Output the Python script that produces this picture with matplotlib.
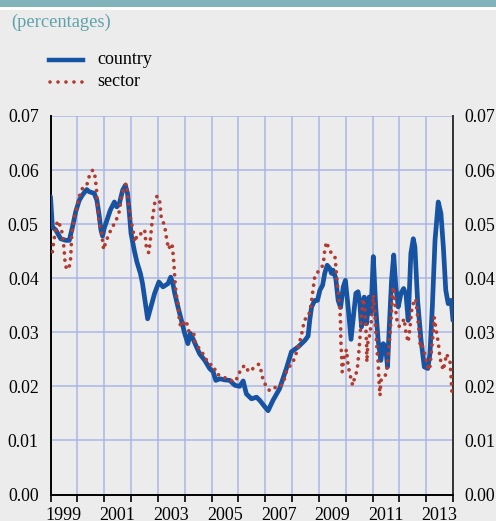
import matplotlib
matplotlib.use("Agg")
import matplotlib.pyplot as plt
from matplotlib.lines import Line2D
from matplotlib.patches import Rectangle
from matplotlib.ticker import FixedLocator, NullFormatter, FixedFormatter

plt.rcParams['font.family'] = ['Liberation Serif', 'DejaVu Serif']

# ---- data (decimal years, values) ----
country_t = [1999.00, 1999.07, 1999.20, 1999.38, 1999.57, 1999.70, 1999.82, 1999.94,
             2000.07, 2000.19, 2000.35, 2000.44, 2000.63, 2000.73, 2000.82, 2000.88, 2000.94,
             2001.00, 2001.10, 2001.23, 2001.38, 2001.47, 2001.56, 2001.69, 2001.79, 2001.87, 2001.94,
             2002.00, 2002.12, 2002.22, 2002.35, 2002.43, 2002.52, 2002.62, 2002.74, 2002.88,
             2003.04, 2003.19, 2003.38, 2003.48, 2003.56, 2003.63, 2003.75, 2003.88,
             2004.00, 2004.12, 2004.21, 2004.31, 2004.44, 2004.56, 2004.75, 2004.93,
             2005.06, 2005.16, 2005.31, 2005.49, 2005.68, 2005.87,
             2006.05, 2006.18, 2006.30, 2006.49, 2006.68, 2006.80, 2006.99,
             2007.11, 2007.29, 2007.54, 2007.79, 2007.98,
             2008.23, 2008.48, 2008.60, 2008.66, 2008.73, 2008.85, 2008.95,
             2009.04, 2009.14, 2009.22, 2009.31, 2009.41, 2009.47, 2009.53, 2009.63, 2009.72,
             2009.81, 2009.91, 2009.99, 2010.09, 2010.20, 2010.38, 2010.46, 2010.52, 2010.59,
             2010.69, 2010.78, 2010.87, 2010.94,
             2011.03, 2011.12, 2011.21, 2011.31, 2011.40, 2011.49, 2011.56, 2011.62, 2011.71,
             2011.79, 2011.87, 2011.96,
             2012.06, 2012.16, 2012.25, 2012.33, 2012.43, 2012.52, 2012.58, 2012.68, 2012.81, 2012.93,
             2013.06, 2013.14, 2013.23, 2013.33, 2013.45, 2013.55, 2013.64, 2013.73, 2013.82, 2013.93, 2014.00]
country_v = [0.0551, 0.0495, 0.0489, 0.0473, 0.0470, 0.0470, 0.0495, 0.0523,
             0.0544, 0.0554, 0.0564, 0.0560, 0.0557, 0.0544, 0.0514, 0.0489, 0.0478,
             0.0492, 0.0507, 0.0526, 0.0541, 0.0532, 0.0537, 0.0563, 0.0572, 0.0557, 0.0520,
             0.0483, 0.0452, 0.0430, 0.0409, 0.0390, 0.0359, 0.0325, 0.0347, 0.0372,
             0.0393, 0.0384, 0.0390, 0.0402, 0.0390, 0.0372, 0.0347, 0.0322,
             0.0298, 0.0279, 0.0298, 0.0288, 0.0273, 0.0260, 0.0248, 0.0233,
             0.0227, 0.0211, 0.0214, 0.0212, 0.0211, 0.0202,
             0.0200, 0.0210, 0.0186, 0.0177, 0.0180, 0.0174, 0.0162,
             0.0155, 0.0174, 0.0196, 0.0233, 0.0264,
             0.0273, 0.0285, 0.0293, 0.0322, 0.0347, 0.0359, 0.0359,
             0.0378, 0.0387, 0.0409, 0.0424, 0.0418, 0.0409, 0.0415, 0.0400, 0.0359,
             0.0346, 0.0384, 0.0396, 0.0347, 0.0287, 0.0372, 0.0375, 0.0359, 0.0310,
             0.0365, 0.0316, 0.0365, 0.0335,
             0.0440, 0.0347, 0.0285, 0.0248, 0.0279, 0.0273, 0.0236, 0.0304, 0.0396,
             0.0443, 0.0384, 0.0347,
             0.0372, 0.0381, 0.0369, 0.0322, 0.0446, 0.0473, 0.0458, 0.0359, 0.0285, 0.0236,
             0.0233, 0.0260, 0.0347, 0.0470, 0.0541, 0.0520, 0.0458, 0.0378, 0.0353, 0.0359, 0.0322]

sector_t = [1999.07, 1999.11, 1999.16, 1999.20, 1999.26, 1999.38, 1999.45, 1999.51, 1999.53, 1999.57,
            1999.67, 1999.74, 1999.76, 1999.79, 1999.86, 1999.94,
            2000.07, 2000.19, 2000.35, 2000.44, 2000.57, 2000.65, 2000.69, 2000.72, 2000.75, 2000.82,
            2000.90, 2000.94, 2000.98,
            2001.06, 2001.19, 2001.31, 2001.44, 2001.56, 2001.65, 2001.75, 2001.82, 2001.87, 2001.92, 2001.97,
            2002.06, 2002.15, 2002.21, 2002.32, 2002.41, 2002.51, 2002.57, 2002.66, 2002.71, 2002.79,
            2002.88, 2002.97,
            2003.07, 2003.13, 2003.25, 2003.34, 2003.40, 2003.47, 2003.53, 2003.56, 2003.59, 2003.61,
            2003.63, 2003.65, 2003.68, 2003.74, 2003.77, 2003.79, 2003.84, 2003.91,
            2004.00, 2004.09, 2004.16, 2004.25, 2004.34, 2004.37, 2004.50, 2004.62, 2004.75, 2004.87,
            2005.03, 2005.09, 2005.16, 2005.31, 2005.43, 2005.62, 2005.83, 2005.99,
            2006.08, 2006.24, 2006.39, 2006.55, 2006.76, 2006.86, 2006.92,
            2007.05, 2007.15, 2007.29, 2007.44, 2007.61, 2007.71, 2007.79, 2007.89,
            2008.02, 2008.13, 2008.23, 2008.35, 2008.41, 2008.48, 2008.60, 2008.69, 2008.73, 2008.77,
            2008.81, 2008.85, 2008.97,
            2009.14, 2009.19, 2009.22, 2009.29, 2009.37, 2009.47, 2009.60, 2009.63, 2009.68, 2009.72,
            2009.78, 2009.81, 2009.82, 2009.85, 2009.87, 2009.94,
            2010.03, 2010.09, 2010.16, 2010.26, 2010.34, 2010.43, 2010.48, 2010.53, 2010.59, 2010.65,
            2010.71, 2010.75, 2010.78, 2010.79, 2010.84, 2010.90, 2010.97,
            2011.03, 2011.09, 2011.12, 2011.18, 2011.21, 2011.24, 2011.28, 2011.31, 2011.40, 2011.46,
            2011.53, 2011.59, 2011.65, 2011.71, 2011.74, 2011.79, 2011.84, 2011.90, 2011.99,
            2012.09, 2012.18, 2012.25, 2012.33, 2012.40, 2012.46, 2012.52, 2012.61, 2012.67, 2012.73,
            2012.78, 2012.85, 2012.95,
            2013.02, 2013.08, 2013.14, 2013.20, 2013.26, 2013.30, 2013.39, 2013.45, 2013.51, 2013.58,
            2013.64, 2013.70, 2013.76, 2013.89, 2013.93, 2013.95, 2013.98]
sector_v = [0.0449, 0.0464, 0.0480, 0.0492, 0.0506, 0.0495, 0.0480, 0.0452, 0.0436, 0.0421,
            0.0416, 0.0430, 0.0446, 0.0477, 0.0507, 0.0523,
            0.0551, 0.0566, 0.0572, 0.0588, 0.0600, 0.0591, 0.0575, 0.0560, 0.0529, 0.0501,
            0.0486, 0.0470, 0.0453,
            0.0467, 0.0483, 0.0495, 0.0506, 0.0523, 0.0551, 0.0569, 0.0575, 0.0560, 0.0532, 0.0514,
            0.0492, 0.0467, 0.0477, 0.0477, 0.0487, 0.0489, 0.0458, 0.0447, 0.0465, 0.0507,
            0.0538, 0.0552,
            0.0541, 0.0511, 0.0498, 0.0469, 0.0454, 0.0461, 0.0464, 0.0449, 0.0433, 0.0418,
            0.0402, 0.0387, 0.0372, 0.0356, 0.0344, 0.0328, 0.0313, 0.0310,
            0.0322, 0.0315, 0.0301, 0.0299, 0.0298, 0.0284, 0.0273, 0.0264, 0.0256, 0.0242,
            0.0239, 0.0238, 0.0224, 0.0220, 0.0217, 0.0214, 0.0208, 0.0217,
            0.0231, 0.0239, 0.0227, 0.0233, 0.0241, 0.0227, 0.0212,
            0.0199, 0.0193, 0.0193, 0.0202, 0.0202, 0.0212, 0.0227, 0.0236,
            0.0243, 0.0257, 0.0273, 0.0294, 0.0310, 0.0324, 0.0328, 0.0344, 0.0359, 0.0375,
            0.0389, 0.0404, 0.0412,
            0.0423, 0.0436, 0.0453, 0.0467, 0.0455, 0.0446, 0.0440, 0.0424, 0.0393, 0.0378,
            0.0347, 0.0316, 0.0285, 0.0254, 0.0227, 0.0254,
            0.0268, 0.0239, 0.0222, 0.0202, 0.0217, 0.0230, 0.0257, 0.0288, 0.0331, 0.0362,
            0.0347, 0.0310, 0.0276, 0.0245, 0.0291, 0.0294, 0.0328,
            0.0369, 0.0335, 0.0304, 0.0260, 0.0245, 0.0211, 0.0183, 0.0211, 0.0213, 0.0217,
            0.0230, 0.0260, 0.0294, 0.0338, 0.0372, 0.0384, 0.0353, 0.0325, 0.0311,
            0.0316, 0.0325, 0.0298, 0.0282, 0.0310, 0.0341, 0.0353, 0.0362, 0.0335, 0.0304,
            0.0273, 0.0276, 0.0260,
            0.0245, 0.0230, 0.0236, 0.0267, 0.0298, 0.0328, 0.0298, 0.0282, 0.0254, 0.0239,
            0.0230, 0.0245, 0.0260, 0.0245, 0.0217, 0.0196, 0.0180]

year_ticks = list(range(1999, 2015))
label_years = [1999, 2001, 2003, 2005, 2007, 2009, 2011, 2013]
y_ticks = [0.00, 0.01, 0.02, 0.03, 0.04, 0.05, 0.06, 0.07]

BG = '#ececec'
BLUE = '#1753a3'
RED = '#b23a2f'
GRID = '#aab6e6'
TEAL_BAND = '#80b4ba'
TEAL_TEXT = '#5ea3ab'

W, H = 496, 521
fig = plt.figure(figsize=(W / 100, H / 100), dpi=100, facecolor=BG)

# top band
fig.add_artist(Rectangle((0, 1 - 7.3 / H), 1, 7.3 / H, transform=fig.transFigure,
                         facecolor=TEAL_BAND, edgecolor='none'))
fig.add_artist(Rectangle((0, 1 - 9.5 / H), 1, 2.2 / H, transform=fig.transFigure,
                         facecolor='white', edgecolor='none'))
fig.text(11 / W, 1 - 22.5 / H, '(percentages)', color=TEAL_TEXT, fontsize=13.3,
         va='center', ha='left')

left, right = 50.5 / W, 453 / W
bottom, top = 1 - 494.5 / H, 1 - 116 / H
ax = fig.add_axes([left, bottom, right - left, top - bottom])
ax.set_facecolor(BG)

ax.plot(country_t, country_v, color=BLUE, lw=3.4, solid_joinstyle='round',
        solid_capstyle='round', zorder=3)
ax.plot(sector_t, sector_v, color=RED, lw=2.7, linestyle=(0, (0.01, 1.9)),
        dash_capstyle='round', zorder=4)

ax.set_xlim(1999, 2014)
ax.set_ylim(0, 0.07)

ax.xaxis.set_major_locator(FixedLocator(year_ticks))
ax.xaxis.set_major_formatter(NullFormatter())
ax.xaxis.set_minor_locator(FixedLocator([y + 0.5 for y in label_years]))
ax.xaxis.set_minor_formatter(FixedFormatter([str(y) for y in label_years]))
ax.tick_params(axis='x', which='major', direction='out', length=5, width=1.2, color='black')
ax.tick_params(axis='x', which='minor', length=0, labelsize=13, pad=9)

ax.set_yticks(y_ticks)
ax.set_yticklabels(['%.2f' % v for v in y_ticks])
ax.tick_params(axis='y', which='both', length=0, labelsize=12.8, pad=8.5,
               left=True, right=True, labelleft=True, labelright=True)

ax.grid(True, which='major', color=GRID, lw=1.1)
ax.set_axisbelow(True)

ax.spines['top'].set_visible(False)
ax.spines['left'].set_color('black')
ax.spines['left'].set_linewidth(1.4)
ax.spines['right'].set_color('#333333')
ax.spines['right'].set_linewidth(1.4)
ax.spines['bottom'].set_color('black')
ax.spines['bottom'].set_linewidth(1.4)

# legend
fig.add_artist(Line2D([49 / W, 83 / W], [1 - 60 / H] * 2, transform=fig.transFigure,
                      color=BLUE, lw=3.2))
fig.add_artist(Line2D([50 / W, 84 / W], [1 - 81.5 / H] * 2, transform=fig.transFigure,
                      color=RED, lw=2.6, linestyle=(0, (0.01, 2.2)), dash_capstyle='round'))
fig.text(97 / W, 1 - 60 / H, 'country', fontsize=13, va='center', ha='left')
fig.text(97 / W, 1 - 81.5 / H, 'sector', fontsize=13, va='center', ha='left')

fig.savefig('out.png', dpi=100, facecolor=BG)
